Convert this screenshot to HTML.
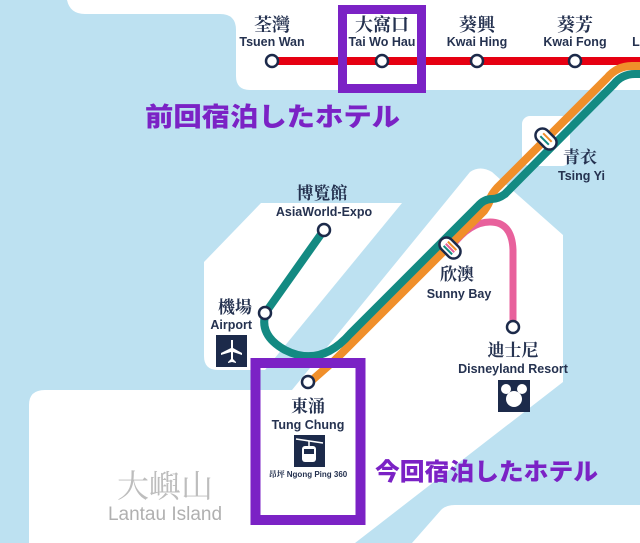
<!DOCTYPE html>
<html><head><meta charset="utf-8">
<style>
html,body{margin:0;padding:0;background:#bde1f1;}
svg{display:block;}
.cn{font-family:"Noto Serif CJK SC","Noto Sans CJK TC",serif;fill:#253250;font-weight:bold;}
.en{font-family:"Liberation Sans",sans-serif;fill:#253250;font-weight:bold;}
.pt{font-family:"Noto Sans CJK JP",sans-serif;font-weight:900;fill:#7b22c5;}
</style></head>
<body>
<svg width="640" height="543" viewBox="0 0 640 543" xmlns="http://www.w3.org/2000/svg">
<rect width="640" height="543" fill="#bde1f1"/>
<!-- land -->
<path d="M67,0 H640 V90 H250 Q236,90 236,76 V30 Q236,14 220,14 H85 Q70,14 67,0 Z" fill="#fff"/>
<rect x="522" y="116" width="48" height="50" rx="8" fill="#fff"/>
<path d="M261,203 L402,203 L265,370 L218,370 Q204,370 204,356 L204,262 Z" fill="#fff"/>
<path d="M470,172 Q480,165 492,172 L563,235 L563,382 L355,543 L29,543 L29,405 Q29,390 45,390 L292,390 Z" fill="#fff"/>
<path d="M412,543 L441,510 Q446,505 455,505 H640 V543 Z" fill="#fff"/>
<!-- red line -->
<line x1="272" y1="61" x2="640" y2="61" stroke="#e60012" stroke-width="8"/>
<!-- pink -->
<path d="M452,246 Q470,222 490,222 Q512,222 513,250 L513,327" fill="none" stroke="#e8619c" stroke-width="7"/>
<!-- orange -->
<path d="M640,66 H632 Q617,66 607,78 L497,188 Q490,196 490,200 Q489,204 484,211 L335,360 L310,382" fill="none" stroke="#f08f2a" stroke-width="8" stroke-linejoin="round"/>
<!-- teal -->
<path d="M640,74 H635 Q622,74 614,84 L505,194 Q498,199 492,199 Q484,199 478,206 L350,334 Q320,368 285,350 Q258,335 266,312 L324,230" fill="none" stroke="#138a82" stroke-width="8" stroke-linejoin="round"/>
<!-- stations -->
<g fill="#fff" stroke="#1c2a4a" stroke-width="2.5">
<circle cx="272" cy="61" r="6"/><circle cx="382" cy="61" r="6"/><circle cx="477" cy="61" r="6"/><circle cx="575" cy="61" r="6"/>
<circle cx="324" cy="230" r="6"/><circle cx="265" cy="313" r="6"/><circle cx="513" cy="327" r="6"/><circle cx="308" cy="382" r="6"/>
</g>
<!-- interchanges -->
<g transform="translate(546,139) rotate(45)">
<rect x="-12" y="-7" width="24" height="14" rx="7" fill="#fff" stroke="#1c2a4a" stroke-width="2.5"/>
<line x1="-6" y1="-2" x2="6" y2="-2" stroke="#f08f2a" stroke-width="2"/><line x1="-6" y1="2" x2="6" y2="2" stroke="#138a82" stroke-width="2"/>
</g>
<g transform="translate(450,248) rotate(45)">
<rect x="-12" y="-7" width="24" height="14" rx="7" fill="#fff" stroke="#1c2a4a" stroke-width="2.5"/>
<line x1="-6" y1="-3" x2="6" y2="-3" stroke="#f08f2a" stroke-width="2"/><line x1="-6" y1="0" x2="6" y2="0" stroke="#e8619c" stroke-width="2"/><line x1="-6" y1="3" x2="6" y2="3" stroke="#138a82" stroke-width="2"/>
</g>
<!-- top labels -->
<g text-anchor="middle">
<text class="cn" x="272" y="31" font-size="18">荃灣</text><text class="en" x="272" y="46" font-size="12.5">Tsuen Wan</text>
<text class="cn" x="382" y="31" font-size="18">大窩口</text><text class="en" x="382" y="46" font-size="12.5">Tai Wo Hau</text>
<text class="cn" x="477" y="31" font-size="18">葵興</text><text class="en" x="477" y="46" font-size="12.5">Kwai Hing</text>
<text class="cn" x="575" y="31" font-size="18">葵芳</text><text class="en" x="575" y="46" font-size="12.5">Kwai Fong</text>
<text class="en" x="636" y="46" font-size="12.5">L</text>
<text class="cn" x="322" y="199" font-size="17">博覧館</text><text class="en" x="324" y="216" font-size="12.5">AsiaWorld-Expo</text>
<text class="cn" x="457" y="280" font-size="17">欣澳</text><text class="en" x="459" y="298" font-size="12.5">Sunny Bay</text>
<text class="cn" x="513" y="356" font-size="17">迪士尼</text><text class="en" x="513" y="373" font-size="12.5">Disneyland Resort</text>
<text class="cn" x="308" y="412" font-size="17">東涌</text><text class="en" x="308" y="429" font-size="12.5">Tung Chung</text>
<text class="cn" x="308" y="477" font-size="8" style="fill:#253250">昂坪 <tspan class="en" font-size="8">Ngong Ping 360</tspan></text>
<text x="165" y="497" font-size="32" font-family="Noto Serif CJK SC,serif" fill="#bdbdbd">大嶼山</text>
<text x="165" y="520" font-size="19" font-family="Liberation Sans,sans-serif" fill="#b0b0b0">Lantau Island</text>
</g>
<text class="cn" x="563" y="163" font-size="17">青衣</text><text class="en" x="558" y="180" font-size="12.5">Tsing Yi</text>
<text class="cn" x="252" y="313" font-size="17" text-anchor="end">機場</text><text class="en" x="252" y="329" font-size="12.5" text-anchor="end">Airport</text>
<!-- icons -->
<rect x="216" y="335" width="31" height="32" fill="#1c2a4a"/>
<path d="M231,340 L233,340 L233,348 L242,353 L242,355 L233,352 L233,359 L236,362 L236,363 L232,362 L228,363 L228,362 L231,359 L231,352 L221,355 L221,353 L231,348 Z" fill="#fff"/>
<rect x="498" y="380" width="32" height="32" fill="#1c2a4a"/>
<circle cx="514" cy="399" r="8" fill="#fff"/><circle cx="506" cy="389" r="5" fill="#fff"/><circle cx="522" cy="389" r="5" fill="#fff"/>
<rect x="294" y="435" width="31" height="32" fill="#1c2a4a"/>
<line x1="296" y1="439" x2="323" y2="443" stroke="#fff" stroke-width="1.5"/>
<line x1="309" y1="441" x2="309" y2="446" stroke="#fff" stroke-width="1.5"/>
<rect x="302" y="446" width="14" height="16" rx="3" fill="#fff"/>
<rect x="304" y="449" width="10" height="5" fill="#1c2a4a"/>
<!-- purple boxes -->
<rect x="342.5" y="9.5" width="79" height="79" fill="none" stroke="#7b22c5" stroke-width="9"/>
<rect x="255.5" y="363" width="105" height="157" fill="none" stroke="#7b22c5" stroke-width="10"/>
<text class="pt" x="145" y="126" font-size="26" textLength="255" lengthAdjust="spacingAndGlyphs">前回宿泊したホテル</text>
<text class="pt" x="375" y="480" font-size="24" textLength="223" lengthAdjust="spacingAndGlyphs">今回宿泊したホテル</text>
</svg>
</body></html>
